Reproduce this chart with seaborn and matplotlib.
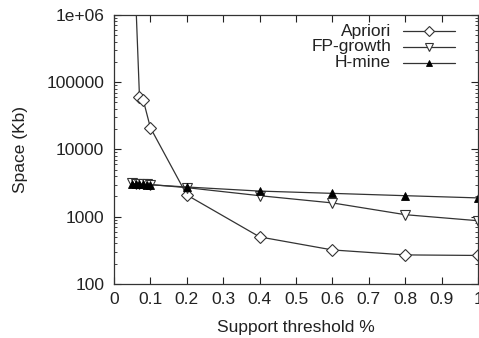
import matplotlib
matplotlib.use("Agg")
import matplotlib.pyplot as plt
import matplotlib.ticker as mticker
import seaborn as sns
import pandas as pd

# Data
apriori_x = [0.05, 0.07, 0.08, 0.1, 0.2, 0.4, 0.6, 0.8, 1.0]
apriori_y = [4e7, 60000, 55000, 21000, 2100, 500, 320, 270, 265]

fp_x = [0.05, 0.06, 0.07, 0.08, 0.09, 0.1, 0.2, 0.4, 0.6, 0.8, 1.0]
fp_y = [3150, 3100, 3080, 3050, 3020, 3000, 2700, 2050, 1600, 1070, 870]

hm_x = [0.05, 0.06, 0.07, 0.08, 0.09, 0.1, 0.2, 0.4, 0.6, 0.8, 1.0]
hm_y = [3100, 3080, 3050, 3030, 3000, 2980, 2760, 2400, 2220, 2050, 1900]

x_ticks = [0, 0.1, 0.2, 0.3, 0.4, 0.5, 0.6, 0.7, 0.8, 0.9, 1.0]
x_labels = ["0", "0.1", "0.2", "0.3", "0.4", "0.5", "0.6", "0.7", "0.8", "0.9", "1"]
y_ticks = [100, 1000, 10000, 100000, 1000000]
y_labels = ["100", "1000", "10000", "100000", "1e+06"]

sns.set_style("ticks")
plt.rcParams['font.family'] = ['Liberation Sans', 'DejaVu Sans']

dpi = 100
fs = 12.5
txt_col = "#222222"
line_col = "#333333"

fig, ax = plt.subplots(figsize=(479 / dpi, 338 / dpi), dpi=dpi)
fig.subplots_adjust(left=0.238, right=0.998, top=0.956, bottom=0.160)

series = [
    ("Apriori", apriori_x, apriori_y, dict(marker="D", mfc="white", mec=line_col, ms=6, mew=0.8)),
    ("FP-growth", fp_x, fp_y, dict(marker="v", mfc="white", mec=line_col, ms=7, mew=0.8)),
    ("H-mine", hm_x, hm_y, dict(marker="^", mfc="black", mec="black", ms=6, mew=0.6)),
]
for name, xs, ys, mk in series:
    df = pd.DataFrame({"x": xs, "y": ys})
    sns.lineplot(data=df, x="x", y="y", ax=ax, color=line_col, linewidth=0.9,
                 marker=mk["marker"], markersize=mk["ms"],
                 markerfacecolor=mk["mfc"], markeredgecolor=mk["mec"],
                 markeredgewidth=mk["mew"], legend=False)

ax.set_yscale("log")
ax.set_xlim(0, 1)
ax.set_ylim(100, 1e6)
ax.set_xticks(x_ticks)
ax.set_xticklabels(x_labels)
ax.set_yticks(y_ticks)
ax.set_yticklabels(y_labels)
ax.yaxis.set_minor_locator(mticker.LogLocator(base=10, subs=range(2, 10)))
ax.yaxis.set_minor_formatter(mticker.NullFormatter())

ax.tick_params(axis="both", which="major", direction="in", length=5, width=0.8,
               top=True, right=True, labelsize=fs, colors=txt_col)
ax.tick_params(axis="x", which="major", pad=6)
ax.tick_params(axis="y", which="major", pad=7)
ax.tick_params(axis="y", which="minor", direction="in", length=2.5, width=0.6,
               left=True, right=True)
for s in ax.spines.values():
    s.set_linewidth(0.9)
    s.set_color(line_col)

ax.set_xlabel("Support threshold %", fontsize=fs, color=txt_col, labelpad=9)
ax.set_ylabel("Space (Kb)", fontsize=fs, color=txt_col, labelpad=13)

# gnuplot-style key: right-aligned labels, sample line to the right
key_rows = [0.940, 0.881, 0.822]
for (name, xs, ys, mk), ky in zip(series, key_rows):
    ax.text(0.761, ky, name, transform=ax.transAxes, ha="right", va="center",
            fontsize=fs, color=txt_col)
    ax.plot([0.794, 0.937], [ky, ky], transform=ax.transAxes, color=line_col,
            linewidth=0.9)
    ax.plot([0.865], [ky], transform=ax.transAxes, linestyle="none",
            marker=mk["marker"], markersize=mk["ms"] - 1,
            markerfacecolor=mk["mfc"], markeredgecolor=mk["mec"],
            markeredgewidth=mk["mew"])

fig.savefig("out.png", dpi=dpi)
